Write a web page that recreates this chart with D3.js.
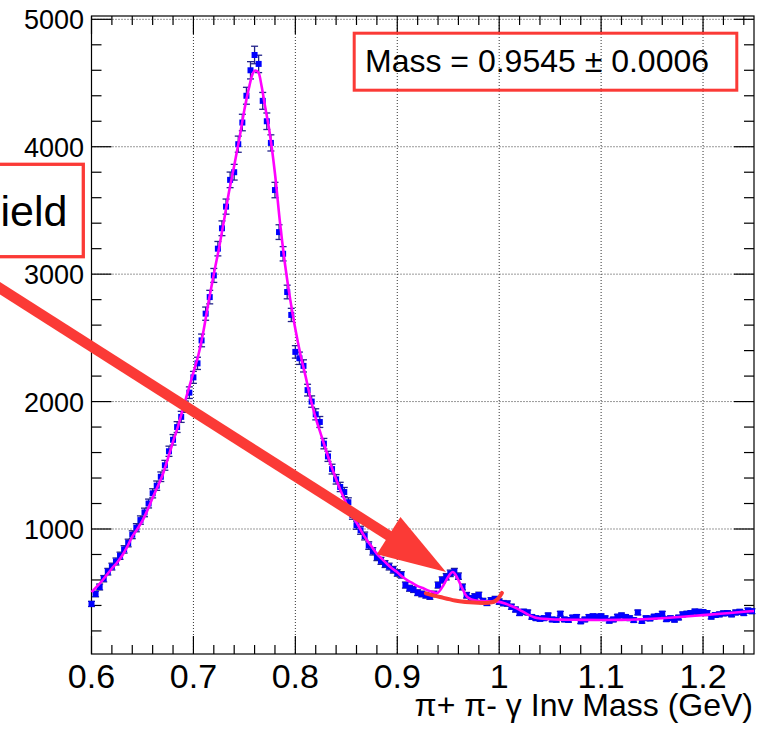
<!DOCTYPE html>
<html><head><meta charset="utf-8">
<script src="https://cdn.jsdelivr.net/npm/d3@7"></script>
<style>
body{margin:0;background:#fff}
svg{display:block}
text{font-family:"Liberation Sans",Arial,Helvetica,sans-serif;fill:#000}
</style>
</head><body>
<svg id="chart" width="769" height="730"></svg>
<script>
// ---- data ----
const binStart = 0.600, binWidth = 0.004;
const counts = [
 412,490,545,610,665,705,745,790,840,890,
 955,1010,1070,1130,1200,1280,1340,1410,1500,1610,
 1700,1800,1880,1960,2070,2190,2300,2480,2690,2820,
 2990,3200,3360,3530,3740,3800,4020,4190,4400,4600,
 4720,4650,4360,4200,4030,3660,3330,3160,2860,2680,
 2390,2340,2280,2090,2000,1900,1840,1670,1570,1470,
 1390,1330,1290,1210,1110,1030,990,945,870,825,
 780,750,725,705,680,655,640,560,535,525,
 500,490,480,470,490,560,600,625,652,665,
 630,545,480,456,470,482,435,420,440,450,
 430,418,415,390,368,340,351,345,310,300,
 295,300,322,290,287,335,290,286,305,310,
 275,290,310,315,312,315,300,280,290,312,
 322,310,300,285,345,278,300,298,312,318,
 335,292,300,288,305,330,335,340,352,350,
 348,340,312,325,330,338,340,330,345,350,
 340,360,355
];
const fitMass = [0.600,0.605,0.610,0.615,0.620,0.625,0.630,0.635,0.640,0.645,
 0.650,0.655,0.660,0.665,0.670,0.675,0.680,0.685,0.690,0.695,
 0.700,0.705,0.710,0.715,0.720,0.725,0.730,0.735,0.740,0.745,
 0.750,0.755,0.758,0.761,0.764,0.767,0.770,0.775,0.780,0.785,
 0.790,0.795,0.800,0.805,0.810,0.815,0.820,0.825,0.830,0.835,
 0.840,0.845,0.850,0.855,0.860,0.865,0.870,0.875,0.880,0.885,
 0.890,0.895,0.900,0.905,0.910,0.915,0.920,0.925,0.930,0.935,
 0.939,0.945,0.950,0.9545,0.959,0.964,0.968,0.972,0.976,0.980,
 0.990,1.000,1.005,1.010,1.015,1.020,1.025,1.030,1.035,1.040,
 1.050,1.060,1.080,1.100,1.120,1.140,1.160,1.180,1.200,1.220,
 1.240,1.250];
const fitCounts = [505,545,590,640,690,735,790,860,940,1000,
 1065,1150,1245,1335,1430,1555,1685,1810,1950,2090,
 2230,2370,2560,2790,3000,3200,3420,3650,3850,4060,
 4290,4480,4570,4598,4580,4470,4330,4100,3790,3400,
 3070,2800,2570,2370,2200,2020,1870,1745,1620,1500,
 1390,1290,1200,1120,1050,980,915,860,805,765,
 725,690,660,625,597,575,552,537,518,505,
 497,555,625,662,615,530,472,450,440,436,
 432,428,418,402,385,365,343,322,306,298,
 292,289,287,286,287,292,300,311,324,337,
 350,357];
const bkgMass = [0.928,0.942,0.9565,0.9712,0.9859,0.9938,0.9987,1.0027];
const bkgCounts = [495,466,439,425,419,427,451,498];
const xTickValues = [0.6,0.7,0.8,0.9,1.0,1.1,1.2];
const xTickLabels = ["0.6","0.7","0.8","0.9","1","1.1","1.2"];
const yTickValues = [1000,2000,3000,4000,5000];
const yTickLabels = ["1000","2000","3000","4000","5000"];
const xTitle = "\u03c0+ \u03c0- \u03b3 Inv Mass (GeV)";
const massLabel = "Mass = 0.9545 \u00b1 0.0006";
const yieldLabel = "ield";
const arrowFrom = [0.500, 2941];
const arrowTo = [0.9478, 662];

// ---- layout ----
const L = 91.5, R = 754, T = 16, B = 654;
const red = "#fb3a36";
const svg = d3.select("#chart");
const x = d3.scaleLinear().domain([0.6, 1.25]).range([L, R]);
const y = d3.scaleLinear().domain([19, 5026]).range([B, T]);

// grid
const grid = svg.append("g").attr("stroke", "#333").attr("stroke-width", 1).attr("stroke-dasharray", "1,2");
xTickValues.forEach(v => { if (v > 0.6) grid.append("line").attr("x1", x(v)).attr("x2", x(v)).attr("y1", T).attr("y2", B); });
yTickValues.forEach(v => grid.append("line").attr("x1", L).attr("x2", R).attr("y1", y(v)).attr("y2", y(v)));

// frame + ticks
const ax = svg.append("g").attr("stroke", "#000").attr("stroke-width", 1.2).attr("fill", "none");
ax.append("rect").attr("x", L).attr("y", T).attr("width", R - L).attr("height", B - T);
const xMinor = d3.range(0, 33).map(i => 0.6 + i * 0.02);
xMinor.forEach((v, i) => {
  const len = (i % 5 === 0) ? 18 : 9;
  ax.append("line").attr("x1", x(v)).attr("x2", x(v)).attr("y1", B).attr("y2", B - len);
  ax.append("line").attr("x1", x(v)).attr("x2", x(v)).attr("y1", T).attr("y2", T + len);
});
const yMinor = d3.range(1, 26).map(i => i * 200);
yMinor.forEach(v => {
  const len = (v % 1000 === 0) ? 20 : 10;
  ax.append("line").attr("x1", L).attr("x2", L + len).attr("y1", y(v)).attr("y2", y(v));
  ax.append("line").attr("x1", R).attr("x2", R - len).attr("y1", y(v)).attr("y2", y(v));
});

// tick labels
svg.append("g").selectAll("text").data(xTickValues).join("text")
  .attr("x", d => x(d)).attr("y", 688).attr("text-anchor", "middle")
  .attr("font-size", 34).text((d, i) => xTickLabels[i]);
svg.append("g").selectAll("text").data(yTickValues).join("text")
  .attr("x", 84).attr("y", d => y(d) + 10).attr("text-anchor", "end")
  .attr("font-size", 27).text((d, i) => yTickLabels[i]);
svg.append("text").attr("x", 753).attr("y", 716).attr("text-anchor", "end")
  .attr("font-size", 32).text(xTitle);

// data points with error bars
const pts = counts.map((c, i) => ({m: binStart + i * binWidth, c: c, e: Math.sqrt(c)}));
const eb = svg.append("g").attr("stroke", "#22228a").attr("stroke-width", 1.3);
pts.forEach(p => {
  const y1 = y(p.c + p.e), y2 = y(p.c - p.e), px = x(p.m);
  eb.append("line").attr("x1", px).attr("x2", px).attr("y1", y1).attr("y2", y2);
  eb.append("line").attr("x1", px - 3.5).attr("x2", px + 3.5).attr("y1", y1).attr("y2", y1);
  eb.append("line").attr("x1", px - 3.5).attr("x2", px + 3.5).attr("y1", y2).attr("y2", y2);
});
svg.append("g").selectAll("rect").data(pts).join("rect")
  .attr("x", d => x(d.m) - 3).attr("y", d => y(d.c) - 3).attr("width", 6).attr("height", 6)
  .attr("fill", "#0000ff");

// fit curve
const fitLine = d3.line().x(d => x(d[0])).y(d => y(d[1])).curve(d3.curveMonotoneX);
svg.append("path").attr("d", fitLine(fitMass.map((m, i) => [m, fitCounts[i]])))
  .attr("fill", "none").attr("stroke", "#ff00ff").attr("stroke-width", 2.6);

// background (red) curve
svg.append("path").attr("d", fitLine(bkgMass.map((m, i) => [m, bkgCounts[i]])))
  .attr("fill", "none").attr("stroke", red).attr("stroke-width", 4).attr("stroke-linecap", "round");

// arrow
const sx = x(arrowFrom[0]), sy = y(arrowFrom[1]), tx = x(arrowTo[0]), ty = y(arrowTo[1]);
const dx = tx - sx, dy = ty - sy, dl = Math.hypot(dx, dy), ux = dx / dl, uy = dy / dl;
const headLen = 68, headHalf = 22;
const bx = tx - ux * headLen, by = ty - uy * headLen;
svg.append("line").attr("x1", sx).attr("y1", sy).attr("x2", bx + ux * 2).attr("y2", by + uy * 2)
  .attr("stroke", red).attr("stroke-width", 10.5);
svg.append("path").attr("d", `M${tx},${ty}L${bx - uy * headHalf},${by + ux * headHalf}L${bx + uy * headHalf},${by - ux * headHalf}Z`)
  .attr("fill", red);

// label boxes
svg.append("rect").attr("x", -10).attr("y", 164.3).attr("width", 93.3).attr("height", 92.4)
  .attr("fill", "none").attr("stroke", red).attr("stroke-width", 3.3);
svg.append("text").attr("x", 67.5).attr("y", 226).attr("text-anchor", "end").attr("font-size", 43).text(yieldLabel);
svg.append("rect").attr("x", 354.2).attr("y", 33.2).attr("width", 382.6).attr("height", 57)
  .attr("fill", "none").attr("stroke", red).attr("stroke-width", 3);
svg.append("text").attr("x", 365).attr("y", 71.7).attr("font-size", 32).text(massLabel);
</script>
</body></html>
